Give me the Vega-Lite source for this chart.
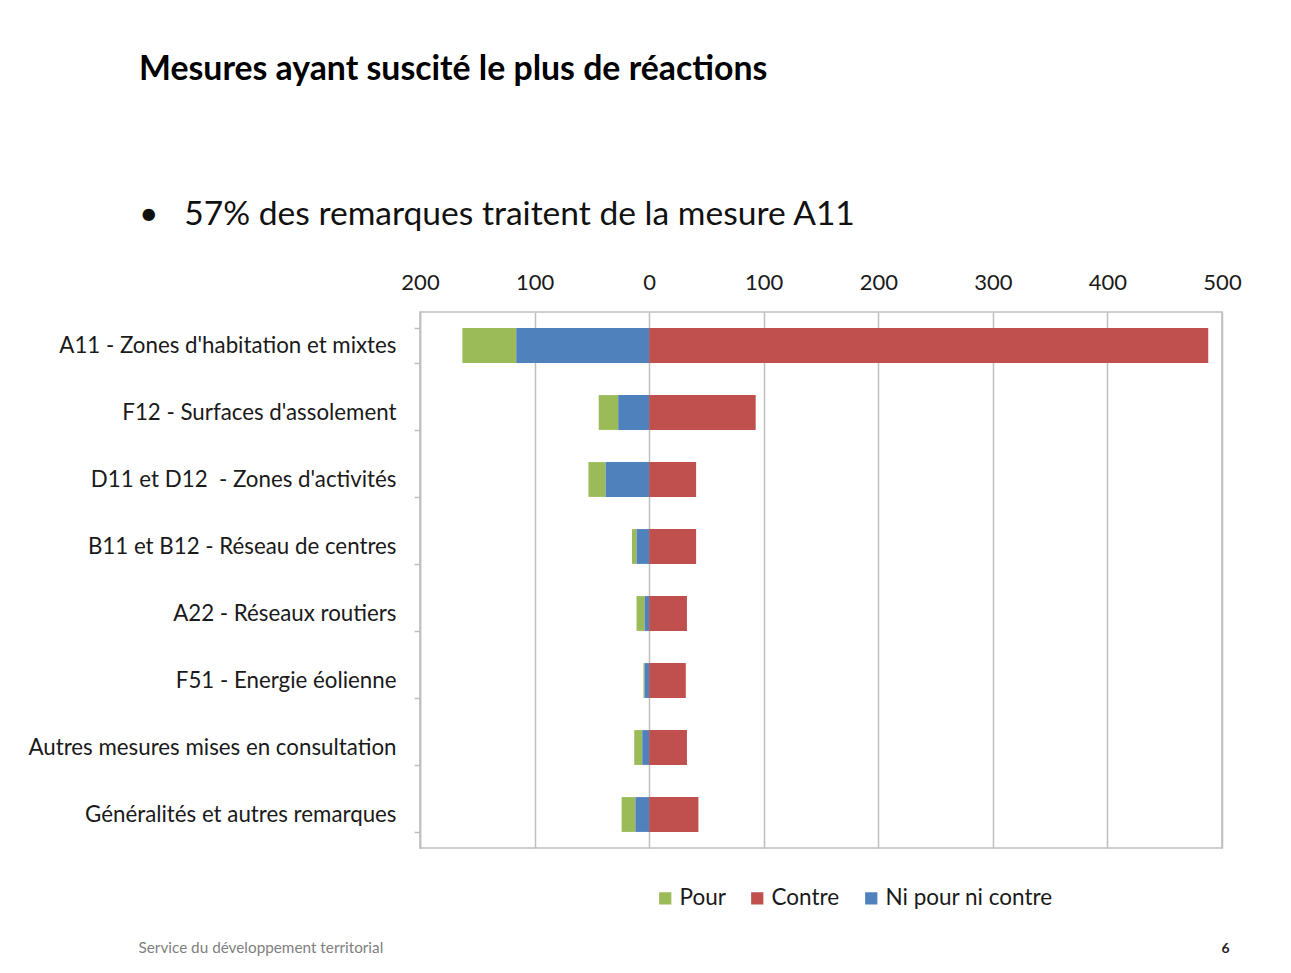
{
  "$schema": "https://vega.github.io/schema/vega-lite/v6.json",
  "width": 802,
  "height": 536,
  "autosize": {"type": "none"},
  "padding": {"left": 420, "top": 312, "right": 69, "bottom": 125},
  "background": "white",
  "title": {
    "text": "Mesures ayant suscité le plus de réactions",
    "subtitle": "•\u00a0\u00a0\u00a057% des remarques traitent de la mesure A11",
    "anchor": "start",
    "frame": "group",
    "dx": -281,
    "offset": 39,
    "font": "Lato",
    "fontSize": 33.8,
    "fontWeight": "bold",
    "color": "#000000",
    "subtitleFont": "Lato",
    "subtitleFontSize": 33.6,
    "subtitleColor": "#111111",
    "subtitlePadding": 112
  },
  "config": {
    "view": {"stroke": "#bfbfbf", "strokeWidth": 1.5},
    "font": "Lato"
  },
  "data": {
    "values": [
      {"mesure": "A11 - Zones d'habitation et mixtes", "category": "Pour", "value": -47},
      {"mesure": "A11 - Zones d'habitation et mixtes", "category": "Ni pour ni contre", "value": -116},
      {"mesure": "A11 - Zones d'habitation et mixtes", "category": "Contre", "value": 488},
      {"mesure": "F12 - Surfaces d'assolement", "category": "Pour", "value": -17},
      {"mesure": "F12 - Surfaces d'assolement", "category": "Ni pour ni contre", "value": -27},
      {"mesure": "F12 - Surfaces d'assolement", "category": "Contre", "value": 93},
      {"mesure": "D11 et D12\u00a0 - Zones d'activités", "category": "Pour", "value": -15},
      {"mesure": "D11 et D12\u00a0 - Zones d'activités", "category": "Ni pour ni contre", "value": -38},
      {"mesure": "D11 et D12\u00a0 - Zones d'activités", "category": "Contre", "value": 41},
      {"mesure": "B11 et B12 - Réseau de centres", "category": "Pour", "value": -4},
      {"mesure": "B11 et B12 - Réseau de centres", "category": "Ni pour ni contre", "value": -11},
      {"mesure": "B11 et B12 - Réseau de centres", "category": "Contre", "value": 41},
      {"mesure": "A22 - Réseaux routiers", "category": "Pour", "value": -7},
      {"mesure": "A22 - Réseaux routiers", "category": "Ni pour ni contre", "value": -4},
      {"mesure": "A22 - Réseaux routiers", "category": "Contre", "value": 33},
      {"mesure": "F51 - Energie éolienne", "category": "Pour", "value": -1},
      {"mesure": "F51 - Energie éolienne", "category": "Ni pour ni contre", "value": -4},
      {"mesure": "F51 - Energie éolienne", "category": "Contre", "value": 32},
      {"mesure": "Autres mesures mises en consultation", "category": "Pour", "value": -7},
      {"mesure": "Autres mesures mises en consultation", "category": "Ni pour ni contre", "value": -6},
      {"mesure": "Autres mesures mises en consultation", "category": "Contre", "value": 33},
      {"mesure": "Généralités et autres remarques", "category": "Pour", "value": -12},
      {"mesure": "Généralités et autres remarques", "category": "Ni pour ni contre", "value": -12},
      {"mesure": "Généralités et autres remarques", "category": "Contre", "value": 43}
    ]
  },
  "mark": {"type": "bar"},
  "encoding": {
    "y": {
      "field": "mesure",
      "type": "nominal",
      "sort": null,
      "scale": {"paddingInner": 0.48, "paddingOuter": 0.24},
      "axis": {
        "title": "Service du développement territorial",
        "titleX": -282,
        "titleY": 635,
        "titleAngle": 0,
        "titleAlign": "left",
        "titleBaseline": "middle",
        "titleFont": "Lato",
        "titleFontSize": 15.3,
        "titleFontWeight": "normal",
        "titleColor": "#808080",
        "labelFont": "Lato",
        "labelFontSize": 22.3,
        "labelColor": "#1a1a1a",
        "labelPadding": 18,
        "labelLimit": 420,
        "tickBand": "extent",
        "tickSize": 6,
        "tickColor": "#bfbfbf",
        "tickWidth": 1.5,
        "domainColor": "#bfbfbf",
        "domainWidth": 1.5,
        "grid": false
      }
    },
    "x": {
      "field": "value",
      "type": "quantitative",
      "stack": "zero",
      "scale": {"domain": [-200, 500], "nice": false},
      "axis": {
        "orient": "top",
        "values": [-200, -100, 0, 100, 200, 300, 400, 500],
        "labelExpr": "format(abs(datum.value), 'd')",
        "title": "6",
        "titleX": 805,
        "titleY": 636,
        "titleAlign": "center",
        "titleBaseline": "middle",
        "titleFont": "Lato",
        "titleFontSize": 14,
        "titleFontWeight": "bold",
        "titleColor": "#222222",
        "labelFont": "Lato",
        "labelFontSize": 22,
        "labelColor": "#1a1a1a",
        "labelPadding": 18,
        "labelFlush": false,
        "ticks": false,
        "domain": false,
        "grid": true,
        "gridColor": "#bfbfbf",
        "gridWidth": 1.5
      }
    },
    "color": {
      "field": "category",
      "type": "nominal",
      "scale": {
        "domain": ["Pour", "Contre", "Ni pour ni contre"],
        "range": ["#9BBB59", "#C0504D", "#4F81BD"]
      },
      "legend": {
        "title": null,
        "orient": "none",
        "direction": "horizontal",
        "legendX": 234,
        "legendY": 575,
        "symbolType": "square",
        "symbolSize": 150,
        "symbolStrokeWidth": 0,
        "labelFont": "Lato",
        "labelFontSize": 22.5,
        "labelColor": "#1a1a1a",
        "labelOffset": 3,
        "labelLimit": 300,
        "columnPadding": 20
      }
    },
    "order": {"field": "category", "sort": "ascending"}
  }
}
